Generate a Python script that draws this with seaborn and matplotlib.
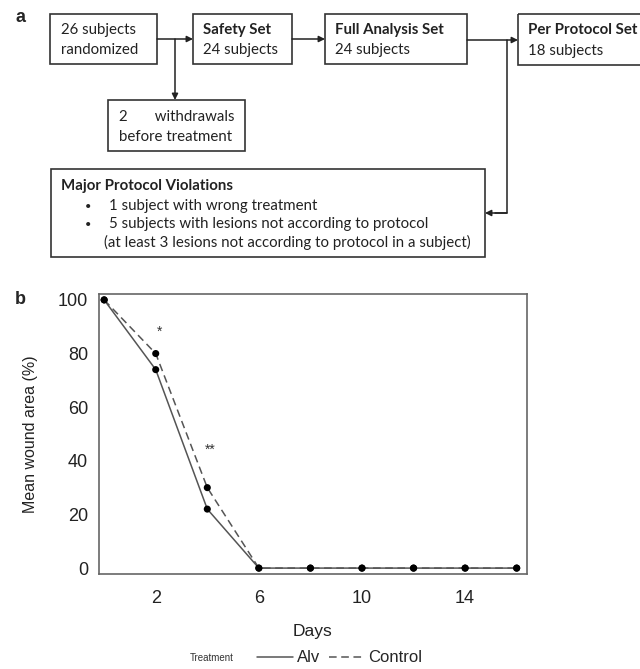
import pandas as pd
import matplotlib
matplotlib.use('Agg')
import matplotlib.pyplot as plt
from matplotlib.lines import Line2D
from matplotlib.patches import Rectangle
import seaborn as sns

# data
days = [0, 2, 4, 6, 8, 10, 12, 14, 16]
alv = [100, 74, 22, 0, 0, 0, 0, 0, 0]
control = [100, 80, 30, 0, 0, 0, 0, 0, 0]
x_ticks = [2, 6, 10, 14]
y_ticks = [0, 20, 40, 60, 80, 100]
stars = [(2.15, 88, '*'), (4.1, 44, '**')]

df = pd.DataFrame({
    'Days': days * 2,
    'Mean wound area (%)': alv + control,
    'Treatment': ['Alv'] * len(days) + ['Control'] * len(days),
})

sns.set_style('white')
plt.rcParams['font.family'] = ['Liberation Sans', 'DejaVu Sans']

fig = plt.figure(figsize=(6.4, 6.69), dpi=100)

# %% panel a: flow chart, drawn in pixel coords
axa = fig.add_axes([0, 0, 1, 1])
axa.set_xlim(0, 640)
axa.set_ylim(669, 0)
axa.axis('off')
axa.patch.set_alpha(0)

box_col = '#333333'
ff = ['Lato', 'DejaVu Sans']
fs = 10.8

def box(x0, y0, x1, y1):
    axa.add_patch(Rectangle((x0, y0), x1 - x0, y1 - y0, fill=False,
                            ec=box_col, lw=1.2, clip_on=False))

def arrow(x0, y0, x1, y1):
    axa.annotate('', xy=(x1, y1), xytext=(x0, y0),
                 arrowprops=dict(arrowstyle='-|>', color='#222222', lw=1.1,
                                 mutation_scale=9, shrinkA=0, shrinkB=0))

def txt(x, y, s, bold=False, size=fs):
    axa.text(x, y, s, family=ff, fontsize=size, va='center', ha='left',
             color='#222222', fontweight='bold' if bold else 'normal')

axa.text(15, 17, 'a', fontsize=13, fontweight='bold', va='center')

box(50, 14, 157, 64)
txt(61, 30, '26 subjects')
txt(61, 50, 'randomized')

box(193, 14, 292, 64)
txt(203, 30, 'Safety Set', bold=True)
txt(203, 50, '24 subjects')

box(325, 14, 467, 64)
txt(335, 30, 'Full Analysis Set', bold=True)
txt(335, 50, '24 subjects')

box(518, 14, 660, 65)
txt(528, 30, 'Per Protocol Set', bold=True)
txt(528, 51, '18 subjects')

box(108, 100, 245, 151)
txt(119, 117, '2       withdrawals')
txt(119, 137, 'before treatment')

box(51, 169, 485, 257)
txt(61, 186, 'Major Protocol Violations', bold=True)
txt(85, 206, '\u2022', size=8)
txt(109, 206, '1 subject with wrong treatment')
txt(85, 224, '\u2022', size=8)
txt(109, 224, '5 subjects with lesions not according to protocol')
txt(104, 242, '(at least 3 lesions not according to protocol in a subject)')

arrow(157, 39, 193, 39)
arrow(175, 39, 175, 100)
arrow(292, 39, 325, 39)
arrow(467, 40, 518, 40)
axa.plot([507, 507, 495], [40, 213, 213], color='#222222', lw=1.1)
arrow(507, 213, 485, 213)

# %% panel b: wound area line chart
ax = fig.add_axes([99 / 640, 1 - 574 / 669, 428 / 640, 280 / 669])
line_col = '#555555'
sns.lineplot(data=df, x='Days', y='Mean wound area (%)', hue='Treatment',
             style='Treatment', palette=[line_col, line_col],
             dashes={'Alv': '', 'Control': (5, 3)}, linewidth=1.1,
             legend=False, ax=ax)
sns.scatterplot(data=df, x='Days', y='Mean wound area (%)', color='black',
                s=26, edgecolor='none', legend=False, ax=ax, zorder=3)

for x, y, s in stars:
    ax.text(x, y, s, ha='center', va='center', fontsize=10, color='#333333')

ax.set_xlim(-0.2, 16.4)
ax.set_ylim(-2.2, 102.2)
ax.set_xticks(x_ticks)
ax.set_yticks(y_ticks)
for sp in ax.spines.values():
    sp.set_color('#666666')
    sp.set_linewidth(1.2)
ax.tick_params(axis='both', direction='out', length=6.5, width=1.1,
               color='#666666', labelsize=13, labelcolor='#222222')
ax.tick_params(axis='y', pad=1.5)
ax.tick_params(axis='x', pad=5)
ax.set_xlabel('Days', fontsize=12.5, labelpad=12, color='#222222')
ax.set_ylabel('Mean wound area (%)', fontsize=11.5, labelpad=14, color='#222222')

fig.text(15 / 640, 1 - 300 / 669, 'b', fontsize=13, fontweight='bold', va='center')

handles = [Line2D([], [], color=line_col, lw=1.1, ls='-'),
           Line2D([], [], color=line_col, lw=1.1, ls=(0, (5, 3)))]
fig.text(190 / 640, 1 - 658 / 669, 'Treatment', fontsize=7, va='center',
         color='#333333')
fig.legend(handles, ['Alv', 'Control'], loc='center left',
           bbox_to_anchor=(257 / 640, 1 - 658 / 669), ncol=2, frameon=False,
           fontsize=12, handlelength=2.15, handletextpad=0.25, columnspacing=0.5,
           borderaxespad=0, borderpad=0)

fig.savefig('out.png', dpi=100)
